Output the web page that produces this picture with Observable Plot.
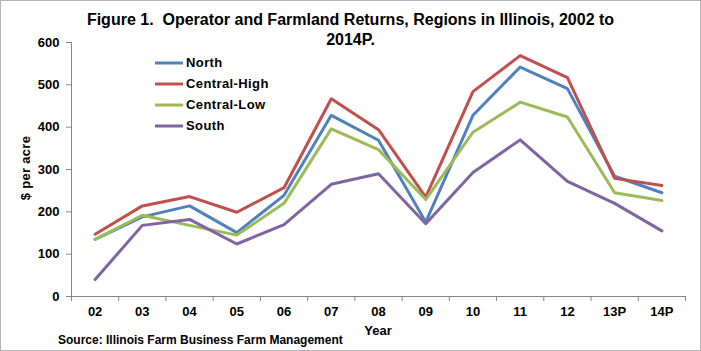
<!DOCTYPE html>
<html>
<head>
<meta charset="utf-8">
<script src="https://cdn.jsdelivr.net/npm/d3@7"></script>
<script src="https://cdn.jsdelivr.net/npm/@observablehq/plot@0.6"></script>
<style>
  body { margin: 0; background: #fff; }
  #wrap { position: relative; width: 701px; height: 351px; overflow: hidden; background: #fff;
          font-family: "Liberation Sans", Arial, sans-serif; font-weight: bold; color: #000; }
  #wrap svg { position: absolute; left: 0; top: 0; }
  .txt { position: absolute; white-space: nowrap; }
  #title { left: 0; top: 10px; width: 701px; text-align: center; font-size: 16px; line-height: 20px; }
  #ytitle { left: 26px; top: 168px; font-size: 13px; line-height: 14px; transform: translate(-50%, -50%) rotate(-90deg); letter-spacing: 0.3px; }
  #xtitle { left: 378px; top: 324px; font-size: 13px; line-height: 14px; transform: translateX(-50%); }
  #source { left: 58px; top: 333px; font-size: 12px; line-height: 14px; }
  #legend { position: absolute; left: 155px; top: 52px; }
  .lrow { display: flex; align-items: center; height: 21px; font-size: 13px; letter-spacing: 0.4px; }
  .lrow svg { position: static !important; margin-right: 3px; }
  #border { position: absolute; left: 0; top: 0; width: 701px; height: 351px; box-sizing: border-box; border: 1px solid #b5b5b5; pointer-events: none; }
</style>
</head>
<body>
<div id="wrap">
  <div id="plot"></div>
  <div id="title" class="txt">Figure 1.&nbsp; Operator and Farmland Returns, Regions in Illinois, 2002 to<br>2014P.</div>
  <div id="ytitle" class="txt">$ per acre</div>
  <div id="xtitle" class="txt">Year</div>
  <div id="source" class="txt">Source: Illinois Farm Business Farm Management</div>
  <div id="legend"></div>
  <div id="border"></div>
</div>
<script>
const years = ["02", "03", "04", "05", "06", "07", "08", "09", "10", "11", "12", "13P", "14P"];
const regions = ["North", "Central-High", "Central-Low", "South"];
const colors = ["#4F81BD", "#C0504D", "#9BBB59", "#8064A2"];
const north       = [135, 188, 214, 151, 239, 428, 369, 176, 428, 542, 491, 284, 245];
const centralHigh = [147, 214, 236, 199, 257, 467, 394, 235, 484, 569, 517, 279, 262];
const centralLow  = [135, 192, 168, 145, 220, 396, 347, 229, 388, 459, 424, 245, 227];
const south       = [ 40, 168, 182, 124, 170, 265, 290, 172, 293, 370, 272, 220, 155];
const yTicks = [0, 100, 200, 300, 400, 500, 600];

const seriesValues = [north, centralHigh, centralLow, south];
const rows = [];
regions.forEach((r, k) => seriesValues[k].forEach((v, i) => rows.push({i, year: years[i], value: v, region: r})));

const axisGray = "#868686";
const chart = Plot.plot({
  width: 701,
  height: 351,
  marginLeft: 71,
  marginRight: 16,
  marginTop: 42,
  marginBottom: 55,
  style: {fontFamily: "'Liberation Sans', Arial, sans-serif", fontSize: "13px", fontWeight: "bold", color: "#000", background: "transparent", overflow: "visible"},
  x: {domain: [-0.5, years.length - 0.5], axis: null},
  y: {domain: [0, 600], axis: null},
  color: {domain: regions, range: colors},
  marks: [
    Plot.axisY({ticks: yTicks, tickSize: 5, tickPadding: 7, stroke: axisGray, fill: "#000", label: null, anchor: "left"}),
    Plot.ruleX([-0.5], {stroke: axisGray}),
    Plot.ruleY([0], {stroke: axisGray}),
    Plot.axisX({ticks: d3.range(-0.5, years.length), tickSize: 5, tickFormat: () => "", stroke: axisGray, label: null}),
    Plot.axisX({ticks: years.map((d, i) => i), tickSize: 0, tickPadding: 10, tickFormat: i => years[i], fill: "#000", label: null}),
    Plot.lineY(rows, {x: "i", y: "value", stroke: "region", z: "region", strokeWidth: 3})
  ]
});
document.getElementById("plot").appendChild(chart);

const legend = document.getElementById("legend");
regions.forEach((r, k) => {
  const row = document.createElement("div");
  row.className = "lrow";
  row.innerHTML = `<svg width="28" height="6"><line x1="0" x2="28" y1="3" y2="3" stroke="${colors[k]}" stroke-width="3"/></svg><span>${r}</span>`;
  legend.appendChild(row);
});
</script>
</body>
</html>
